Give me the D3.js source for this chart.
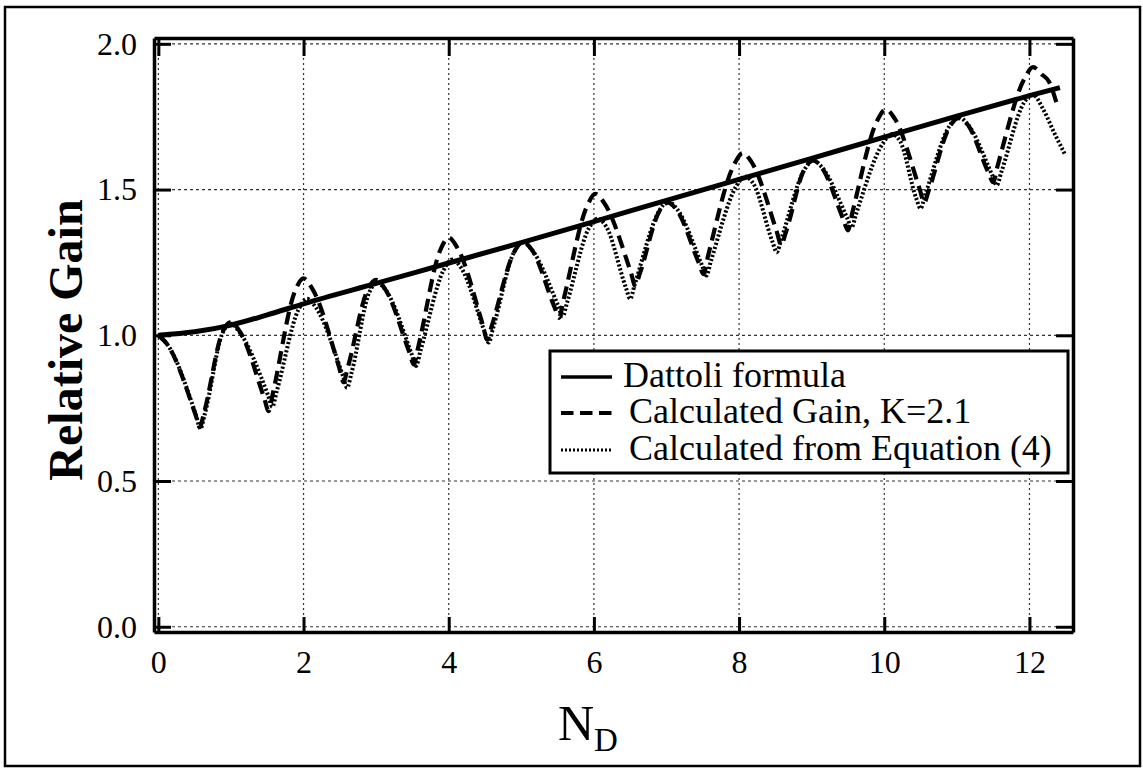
<!DOCTYPE html>
<html>
<head>
<meta charset="utf-8">
<script src="https://cdn.jsdelivr.net/npm/d3@7"></script>
<style>
  body { margin: 0; background: #fff; }
  svg, svg text, svg tspan { font-family: Liberation Serif, Times New Roman, Times, Tinos, Nimbus Roman, DejaVu Serif, serif !important; }
</style>
</head>
<body>
<div id="chart"></div>
<script>
// N_D vs relative gain
const xTicks = [0, 2, 4, 6, 8, 10, 12];
const yTicks = [0.0, 0.5, 1.0, 1.5, 2.0];

const dattoli = [
  [0, 1.0], [0.5, 1.012], [1, 1.035], [1.5, 1.07], [2, 1.108], [3, 1.178], [4, 1.248],
  [5, 1.318], [6, 1.39], [7, 1.463], [8, 1.535], [9, 1.607], [10, 1.68], [11, 1.752],
  [12, 1.822], [12.42, 1.85]
];

// Calculated Gain, K=2.1 (dashed)
const calcGain = [
  [0, 1.0], [0.12, 0.97], [0.51, 0.729], [0.57, 0.685],
  [0.63, 0.735], [0.88, 1.009], [1.0, 1.045],
  [1.12, 1.014], [1.46, 0.783], [1.52, 0.74],
  [1.58, 0.804], [1.88, 1.15], [2.0, 1.195],
  [2.12, 1.16], [2.49, 0.89], [2.55, 0.84],
  [2.61, 0.89], [2.88, 1.155], [3.0, 1.19],
  [3.12, 1.16], [3.46, 0.94], [3.52, 0.90],
  [3.58, 0.96], [3.88, 1.29], [4.0, 1.335],
  [4.12, 1.30], [4.47, 1.035], [4.53, 0.985],
  [4.59, 1.03], [4.9, 1.285], [5.02, 1.32],
  [5.14, 1.295], [5.46, 1.095], [5.52, 1.06],
  [5.58, 1.12], [5.9, 1.44], [6.02, 1.485],
  [6.14, 1.455], [6.51, 1.215], [6.57, 1.17],
  [6.63, 1.21], [6.9, 1.425], [7.02, 1.455],
  [7.14, 1.43], [7.45, 1.245], [7.51, 1.21],
  [7.57, 1.27], [7.93, 1.585], [8.05, 1.625],
  [8.17, 1.595], [8.52, 1.355], [8.58, 1.31],
  [8.64, 1.35], [8.9, 1.57], [9.02, 1.60],
  [9.14, 1.575], [9.44, 1.395], [9.5, 1.36],
  [9.56, 1.42], [9.9, 1.735], [10.02, 1.775],
  [10.14, 1.745], [10.49, 1.50], [10.55, 1.455],
  [10.61, 1.495], [10.9, 1.715], [11.02, 1.745],
  [11.14, 1.725], [11.44, 1.555], [11.5, 1.525],
  [11.56, 1.58], [11.93, 1.88], [12.05, 1.92],
  [12.17, 1.895], [12.27, 1.87], [12.37, 1.80]
];

// Calculated from Equation (4) (dotted)
const calcEq4 = [
  [0, 1.0], [0.12, 0.97], [0.52, 0.725], [0.58, 0.68],
  [0.64, 0.73], [0.88, 1.005], [1.0, 1.04],
  [1.12, 1.01], [1.51, 0.795], [1.57, 0.755],
  [1.63, 0.807], [1.93, 1.088], [2.05, 1.125],
  [2.17, 1.095], [2.54, 0.863], [2.6, 0.82],
  [2.66, 0.87], [2.9, 1.144], [3.02, 1.18],
  [3.14, 1.152], [3.49, 0.935], [3.55, 0.895],
  [3.61, 0.946], [3.93, 1.224], [4.05, 1.26],
  [4.17, 1.232], [4.49, 1.015], [4.55, 0.975],
  [4.61, 1.023], [4.9, 1.286], [5.02, 1.32],
  [5.14, 1.295], [5.51, 1.10], [5.57, 1.065],
  [5.63, 1.112], [5.93, 1.367], [6.05, 1.40],
  [6.17, 1.373], [6.44, 1.164], [6.5, 1.125],
  [6.56, 1.172], [6.9, 1.427], [7.02, 1.46],
  [7.14, 1.435], [7.49, 1.24], [7.55, 1.205],
  [7.61, 1.253], [7.96, 1.511], [8.08, 1.545],
  [8.2, 1.519], [8.46, 1.321], [8.52, 1.285],
  [8.58, 1.329], [8.9, 1.568], [9.02, 1.60],
  [9.14, 1.577], [9.49, 1.402], [9.55, 1.37],
  [9.61, 1.415], [9.98, 1.658], [10.1, 1.69],
  [10.22, 1.665], [10.44, 1.47], [10.5, 1.435],
  [10.56, 1.479], [10.9, 1.719], [11.02, 1.75],
  [11.14, 1.727], [11.49, 1.548], [11.55, 1.515],
  [11.61, 1.558], [11.93, 1.80], [12.05, 1.825],
  [12.19, 1.775], [12.35, 1.69], [12.49, 1.62]
];

const legendLabels = ["Dattoli formula", "Calculated Gain, K=2.1", "Calculated from Equation (4)"];

const W = 1143, H = 768;
const plot = {left: 154, right: 1073, top: 38, bottom: 632};
const serif = "Liberation Serif, Times New Roman, Times, serif";

const svg = d3.select("#chart").append("svg")
  .attr("width", W)
  .attr("height", H)
  .attr("font-family", serif);

// outer figure border
svg.append("rect")
  .attr("x", 5).attr("y", 7)
  .attr("width", 1135).attr("height", 759)
  .attr("fill", "none")
  .attr("stroke", "#000")
  .attr("stroke-width", 2.5);

const x = d3.scaleLinear().domain([-0.06, 12.6]).range([plot.left, plot.right]);
const y = d3.scaleLinear().domain([-0.018, 2.02]).range([plot.bottom, plot.top]);

// dotted grid
const grid = svg.append("g").attr("class", "grid");
xTicks.forEach(t => {
  grid.append("line")
    .attr("x1", x(t)).attr("x2", x(t))
    .attr("y1", plot.top).attr("y2", plot.bottom)
    .attr("stroke", "#333").attr("stroke-width", 1.2)
    .attr("stroke-dasharray", "2,3");
});
yTicks.forEach(t => {
  grid.append("line")
    .attr("x1", plot.left).attr("x2", plot.right)
    .attr("y1", y(t)).attr("y2", y(t))
    .attr("stroke", "#333").attr("stroke-width", 1.2)
    .attr("stroke-dasharray", "3,3");
});

// axes, ticks pointing inward
const fmt = d3.format(".1f");
const axes = [
  d3.axisLeft(y).tickValues(yTicks).tickFormat(fmt).tickSize(-17).tickPadding(17),
  d3.axisRight(y).tickValues(yTicks).tickFormat("").tickSize(-17),
  d3.axisBottom(x).tickValues(xTicks).tickFormat(d3.format("d")).tickSize(-15).tickPadding(18),
  d3.axisTop(x).tickValues(xTicks).tickFormat("").tickSize(-18)
];
const axisPos = [
  "translate(" + plot.left + ",0)",
  "translate(" + plot.right + ",0)",
  "translate(0," + plot.bottom + ")",
  "translate(0," + plot.top + ")"
];
axes.forEach((a, i) => {
  const g = svg.append("g")
    .attr("transform", axisPos[i])
    .call(a.tickSizeOuter(0))
    .attr("font-family", serif)
    .attr("font-size", 32);
  g.select(".domain").attr("stroke", "#000").attr("stroke-width", 3.5);
  g.selectAll(".tick line").attr("stroke", "#000").attr("stroke-width", 3);
  g.selectAll(".tick text").attr("fill", "#000");
});

// the three curves
const line = d3.line()
  .x(d => x(d[0]))
  .y(d => y(d[1]))
  .curve(d3.curveMonotoneX);

svg.append("path")
  .datum(calcEq4)
  .attr("d", line)
  .attr("fill", "none")
  .attr("stroke", "#000")
  .attr("stroke-width", 4)
  .attr("stroke-dasharray", "2.2,2");

svg.append("path")
  .datum(calcGain)
  .attr("d", line)
  .attr("fill", "none")
  .attr("stroke", "#000")
  .attr("stroke-width", 4.2)
  .attr("stroke-dasharray", "13,7");

svg.append("path")
  .datum(dattoli)
  .attr("d", line)
  .attr("fill", "none")
  .attr("stroke", "#000")
  .attr("stroke-width", 5);

// legend
const leg = svg.append("g").attr("transform", "translate(550,351)");
leg.append("rect")
  .attr("width", 518).attr("height", 122)
  .attr("fill", "#fff")
  .attr("stroke", "#000")
  .attr("stroke-width", 3);

const legStyles = [
  {dash: null, width: 3.5},
  {dash: "12.5,6.5", width: 4},
  {dash: "2,2", width: 3}
];
const legY = [26, 62, 99];
const legTextX = [73, 79, 79];
legendLabels.forEach((lbl, i) => {
  leg.append("line")
    .attr("x1", 11).attr("x2", 62)
    .attr("y1", legY[i]).attr("y2", legY[i])
    .attr("stroke", "#000")
    .attr("stroke-width", legStyles[i].width)
    .attr("stroke-dasharray", legStyles[i].dash);
  leg.append("text")
    .attr("x", legTextX[i])
    .attr("y", legY[i] + 10)
    .attr("font-size", 36)
    .text(lbl);
});

// axis titles
svg.append("text")
  .attr("transform", "translate(82,340) rotate(-90)")
  .attr("text-anchor", "middle")
  .attr("font-size", 48)
  .attr("font-weight", "bold")
  .text("Relative Gain");

const xt = svg.append("text")
  .attr("x", 558)
  .attr("y", 740)
  .attr("font-size", 50);
xt.append("tspan").text("N");
xt.append("tspan")
  .attr("dy", 11)
  .attr("font-size", 33)
  .text("D");
</script>
</body>
</html>
